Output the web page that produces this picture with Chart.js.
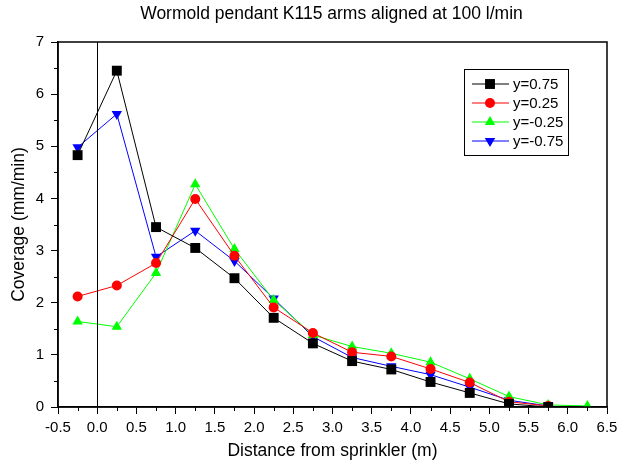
<!DOCTYPE html>
<html>
<head>
<meta charset="utf-8">
<script src="https://cdn.jsdelivr.net/npm/chart.js@4.4.1/dist/chart.umd.min.js"></script>
<style>
    html, body { margin: 0; padding: 0; background: #fff; }
    #wrap { width: 618px; height: 463px; }
</style>
</head>
<body>
<div id="wrap"><canvas id="coverage-chart" width="618" height="463"></canvas></div>
<script>
// Distance from sprinkler (m)
const distance = [-0.25, 0.25, 0.75, 1.25, 1.75, 2.25, 2.75, 3.25, 3.75, 4.25, 4.75, 5.25, 5.75, 6.25];

// Coverage (mm/min) per arm offset
const y075 = [4.83, 6.45, 3.45, 3.05, 2.47, 1.71, 1.22, 0.88, 0.72, 0.48, 0.27, 0.06, 0.00];
const y025 = [2.12, 2.33, 2.76, 3.99, 2.90, 1.91, 1.42, 1.05, 0.97, 0.73, 0.47, 0.10, 0.02];
const yM025 = [1.64, 1.54, 2.57, 4.27, 3.03, 2.05, 1.38, 1.16, 1.03, 0.86, 0.54, 0.20, 0.04, 0.02];
const yM075 = [4.98, 5.62, 2.88, 3.38, 2.80, 2.08, 1.35, 0.95, 0.78, 0.62, 0.38, 0.13, 0.02];

const TITLE = 'Wormold pendant K115 arms aligned at 100 l/min';
const FONT = "'Liberation Sans', Arial, sans-serif";
Chart.defaults.font.family = FONT;
Chart.defaults.color = '#000';

function toPoints(values) {
    return values.map((v, i) => ({ x: distance[i], y: v }));
}

function series(label, values, color, style, radius, rotation) {
    return {
        label,
        data: toPoints(values),
        borderColor: color,
        backgroundColor: color,
        borderWidth: 1,
        pointStyle: style,
        pointRadius: radius,
        pointRotation: rotation || 0,
        pointBorderWidth: 0,
        tension: 0,
    };
}

// Box around the plot, minor ticks, vertical line at the sprinkler, title
const framePlugin = {
    id: 'frame',
    afterDatasetsDraw(chart) {
        const { ctx, chartArea: a, scales } = chart;
        ctx.save();
        ctx.strokeStyle = '#000';
        ctx.lineWidth = 1.5;
        ctx.strokeRect(a.left, a.top, a.right - a.left, a.bottom - a.top);

        // minor ticks halfway between the labelled ones
        ctx.lineWidth = 1;
        ctx.beginPath();
        for (let v = -0.25; v < 6.5; v += 0.5) {
            const px = Math.round(scales.x.getPixelForValue(v)) + 0.5;
            ctx.moveTo(px, a.bottom);
            ctx.lineTo(px, a.bottom + 4);
        }
        for (let v = 0.5; v < 7; v += 1) {
            const py = Math.round(scales.y.getPixelForValue(v)) + 0.5;
            ctx.moveTo(a.left, py);
            ctx.lineTo(a.left - 4, py);
        }
        ctx.stroke();

        const x0 = Math.round(scales.x.getPixelForValue(0)) + 0.5;
        ctx.beginPath();
        ctx.moveTo(x0, a.top);
        ctx.lineTo(x0, a.bottom);
        ctx.stroke();

        ctx.fillStyle = '#000';
        ctx.font = '17.5px ' + FONT;
        ctx.textAlign = 'center';
        ctx.textBaseline = 'middle';
        ctx.fillText(TITLE, (a.left + a.right) / 2 - 1, 14);
        ctx.restore();
    }
};

// Origin-style legend: line, marker, label, inside a box
const boxLegend = {
    id: 'boxLegend',
    afterDraw(chart) {
        const { ctx, chartArea: a } = chart;
        const left = a.right - 143, top = a.top + 27, w = 104, h = 86;
        ctx.save();
        ctx.fillStyle = '#fff';
        ctx.fillRect(left, top, w, h);
        ctx.strokeStyle = '#000';
        ctx.lineWidth = 1;
        ctx.strokeRect(left + 0.5, top + 0.5, w, h);
        ctx.font = '15px ' + FONT;
        ctx.textBaseline = 'middle';
        chart.data.datasets.forEach((ds, i) => {
            const y = top + 15 + i * 19;
            ctx.strokeStyle = ds.borderColor;
            ctx.beginPath();
            ctx.moveTo(left + 8, y);
            ctx.lineTo(left + 45, y);
            ctx.stroke();
            ctx.fillStyle = ds.backgroundColor;
            Chart.helpers.drawPoint(ctx, {
                pointStyle: ds.pointStyle,
                radius: ds.pointRadius,
                rotation: ds.pointRotation,
                borderWidth: 0
            }, left + 26, y);
            ctx.fillStyle = '#000';
            ctx.fillText(ds.label, left + 49, y + 1);
        });
        ctx.restore();
    }
};

new Chart(document.getElementById('coverage-chart'), {
    type: 'line',
    data: {
        datasets: [
            series('y=0.75', y075, '#000000', 'rect', 7),
            series('y=0.25', y025, '#ff0000', 'circle', 5),
            series('y=-0.25', yM025, '#00ff00', 'triangle', 6),
            series('y=-0.75', yM075, '#0000ff', 'triangle', 6, 180),
        ]
    },
    options: {
        responsive: false,
        animation: false,
        layout: { padding: { left: 0, right: 11, top: 42, bottom: 0 } },
        plugins: {
            legend: { display: false },
            tooltip: { enabled: false },
            title: { display: false }
        },
        scales: {
            x: {
                type: 'linear',
                min: -0.5,
                max: 6.5,
                afterFit: s => { s.height = 56; s.paddingRight = 0; },
                ticks: {
                    stepSize: 0.5,
                    autoSkip: false,
                    maxRotation: 0,
                    padding: 5,
                    font: { size: 15 },
                    callback: v => v.toFixed(1)
                },
                grid: { drawOnChartArea: false, drawTicks: true, tickLength: 7, color: '#000' },
                border: { display: true, color: '#000', width: 1.5 },
                title: {
                    display: true,
                    text: 'Distance from sprinkler (m)',
                    font: { size: 17.5 },
                    padding: { top: 0, bottom: 1 }
                }
            },
            y: {
                min: 0,
                max: 7,
                afterFit: s => { s.width = 58; },
                ticks: {
                    stepSize: 1,
                    autoSkip: false,
                    padding: 7,
                    font: { size: 15 }
                },
                grid: { drawOnChartArea: false, drawTicks: true, tickLength: 7, color: '#000' },
                border: { display: true, color: '#000', width: 1.5 },
                title: {
                    display: true,
                    text: 'Coverage (mm/min)',
                    font: { size: 17.5 },
                    padding: { top: 9, bottom: 0 }
                }
            }
        }
    },
    plugins: [framePlugin, boxLegend]
});
</script>
</body>
</html>
